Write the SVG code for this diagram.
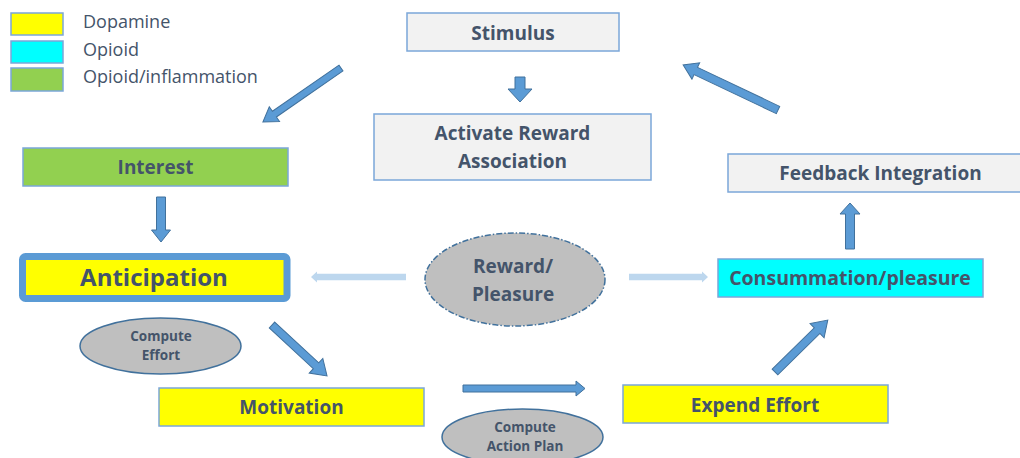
<svg xmlns="http://www.w3.org/2000/svg" width="1020" height="458" viewBox="0 0 1020 458">
  <style>
    text { font-family: "Open Sans", "Noto Sans", "Liberation Sans", sans-serif; fill: #44546A; text-anchor: middle; }
    .lbl { font-weight: bold; font-size: 19px; }
    .big { font-weight: bold; font-size: 24px; }
    .small { font-weight: bold; font-size: 13.5px; }
    .legend { font-size: 18px; text-anchor: start; }
    .box { stroke: #7BA7D9; stroke-width: 1.5; }
    .grey { fill: #F2F2F2; }
    .dopa { fill: #FFFF00; }
    .opio { fill: #00FFFF; }
    .infl { fill: #92D050; }
    .oval { fill: #BFBFBF; stroke: #41719C; stroke-width: 1.5; }
    .dashed { stroke-dasharray: 6 2 1.5 2; }
    .arrow { fill: #5B9BD5; stroke: #41719C; stroke-width: 1; stroke-linejoin: miter; }
    .faint { fill: #BDD7EE; }
  </style>

  <!-- legend -->
  <g id="legend">
    <rect class="box dopa" x="11" y="13" width="52" height="22"/>
    <rect class="box opio" x="11" y="41" width="52" height="22"/>
    <rect class="box infl" x="11" y="68" width="52" height="23"/>
    <text class="legend" x="83" y="28">Dopamine</text>
    <text class="legend" x="83" y="56">Opioid</text>
    <text class="legend" x="83" y="83">Opioid/inflammation</text>
  </g>

  <!-- connectors: block arrows drawn along +x, placed with translate/rotate -->
  <g id="connectors">
    <!-- Stimulus -> Interest -->
    <polygon class="arrow" transform="translate(341,68) rotate(145.3)" points="0,-3.5 81,-3.5 81,-9 95,0 81,9 81,3.5 0,3.5"/>
    <!-- Stimulus -> Activate Reward Association -->
    <polygon class="arrow" transform="translate(520,77) rotate(90)" points="0,-5 12,-5 12,-12 25,0 12,12 12,5 0,5"/>
    <!-- Feedback Integration -> Stimulus -->
    <polygon class="arrow" transform="translate(778,110) rotate(-154.6)" points="0,-4 91,-4 91,-9 105,0 91,9 91,4 0,4"/>
    <!-- Interest -> Anticipation -->
    <polygon class="arrow" transform="translate(161,197) rotate(90)" points="0,-4.5 33,-4.5 33,-9.5 45,0 33,9.5 33,4.5 0,4.5"/>
    <!-- Consummation/pleasure -> Feedback Integration -->
    <polygon class="arrow" transform="translate(850,249) rotate(-90)" points="0,-4.5 35,-4.5 35,-10 46,0 35,10 35,4.5 0,4.5"/>
    <!-- Anticipation -> Motivation -->
    <polygon class="arrow" transform="translate(272,325) rotate(42.8)" points="0,-4 60,-4 60,-10 75,0 60,10 60,4 0,4"/>
    <!-- Motivation -> Expend Effort -->
    <polygon class="arrow" transform="translate(463,388.5)" points="0,-3.5 113,-3.5 113,-7.5 122,0 113,7.5 113,3.5 0,3.5"/>
    <!-- Expend Effort -> Consummation/pleasure -->
    <polygon class="arrow" transform="translate(775,372) rotate(-44.5)" points="0,-4 59,-4 59,-10 74,0 59,10 59,4 0,4"/>
    <!-- Reward/Pleasure -> Anticipation (faint) -->
    <polygon class="faint" transform="translate(406,277) rotate(180)" points="0,-3.3 89,-3.3 89,-5.5 95,0 89,5.5 89,3.3 0,3.3"/>
    <!-- Reward/Pleasure -> Consummation/pleasure (faint) -->
    <polygon class="faint" transform="translate(629,277)" points="0,-3.3 73,-3.3 73,-5.5 79,0 73,5.5 73,3.3 0,3.3"/>
  </g>

  <g id="stimulus">
    <rect class="box grey" x="407" y="13" width="212" height="38"/>
    <text class="lbl" x="513" y="40">Stimulus</text>
  </g>

  <g id="activate-reward">
    <rect class="box grey" x="374" y="114" width="277" height="66"/>
    <text class="lbl" x="512.5" y="140">Activate Reward</text>
    <text class="lbl" x="512.5" y="168">Association</text>
  </g>

  <g id="interest">
    <rect class="box infl" x="23" y="148" width="265" height="38"/>
    <text class="lbl" x="155.5" y="174">Interest</text>
  </g>

  <g id="feedback">
    <rect class="box grey" x="728" y="154" width="300" height="38"/>
    <text class="lbl" x="880.5" y="180">Feedback Integration</text>
  </g>

  <g id="anticipation">
    <rect x="22.5" y="256.5" width="264.5" height="42" rx="3" fill="#FFFF00" stroke="#5B9BD5" stroke-width="7"/>
    <text class="big" x="154" y="286">Anticipation</text>
  </g>

  <g id="reward-pleasure">
    <ellipse class="oval dashed" cx="515" cy="279.5" rx="90" ry="46.5"/>
    <text class="lbl" x="513" y="273">Reward/</text>
    <text class="lbl" x="513" y="301">Pleasure</text>
  </g>

  <g id="consummation">
    <rect class="box opio" x="718" y="259" width="265" height="38"/>
    <text class="lbl" x="850" y="285" style="font-size:19.5px">Consummation/pleasure</text>
  </g>

  <g id="compute-effort">
    <ellipse class="oval" cx="160.5" cy="346" rx="80.5" ry="28"/>
    <text class="small" x="161" y="341">Compute</text>
    <text class="small" x="161" y="360">Effort</text>
  </g>

  <g id="motivation">
    <rect class="box dopa" x="159" y="388" width="265" height="38"/>
    <text class="lbl" x="291.5" y="414">Motivation</text>
  </g>

  <g id="expend-effort">
    <rect class="box dopa" x="623" y="385" width="265" height="38"/>
    <text class="lbl" x="755" y="412">Expend Effort</text>
  </g>

  <g id="compute-action-plan">
    <ellipse class="oval" cx="522.5" cy="437" rx="80.5" ry="28"/>
    <text class="small" x="525" y="432">Compute</text>
    <text class="small" x="525" y="451">Action Plan</text>
  </g>
</svg>
